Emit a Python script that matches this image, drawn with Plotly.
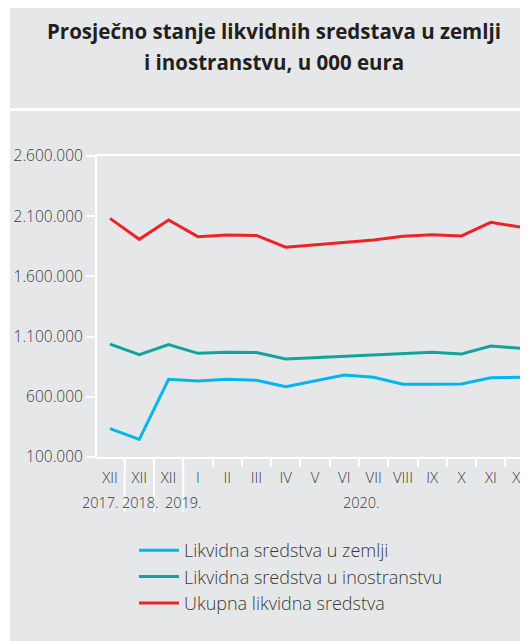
import plotly.graph_objects as go

months = ["XII", "XII", "XII", "I", "II", "III", "IV", "V", "VI", "VII", "VIII", "IX", "X", "XI", "XII"]
years = ["2017.", "2018.", "2019.", "2020."]

zemlji = [335000, 247000, 745000, 731000, 745000, 737000, 684000, 731000, 781000, 762000, 704000, 704000, 706000, 759000, 762000]
inostranstvu = [1038000, 950000, 1033000, 961000, 969000, 967000, 914000, 925000, 939000, 945000, 961000, 969000, 956000, 1022000, 1003000]
ukupna = [2082000, 1908000, 2068000, 1930000, 1944000, 1940000, 1842000, 1861000, 1886000, 1902000, 1933000, 1946000, 1936000, 2049000, 2010000]

names = ["Likvidna sredstva u zemlji", "Likvidna sredstva u inostranstvu", "Ukupna likvidna sredstva"]
colors = ["#00b6ef", "#11a49c", "#ee2229"]

FONT = "Open Sans"
TXT = "#3a3a3a"
LIGHT = 300
OFF = 8  # page body margin
PAGE_W, PAGE_H = 528, 641
W, H = PAGE_W - OFF, PAGE_H - OFF
# plot area in page pixels
PL, PR, PT, PB = 97, 528, 156, 457
L, R, T, B = PL - OFF, W - (PR - OFF), PT - OFF, H - (PB - OFF)
pw, ph = W - L - R, H - T - B


def px(x):
    return (x - PL) / pw


def py(y):
    return (PB - y) / ph


x = list(range(len(months)))

fig = go.Figure()
for vals, name, col in zip([zemlji, inostranstvu, ukupna], names, colors):
    fig.add_trace(go.Scatter(x=x, y=vals, mode="lines", name=name,
                             line=dict(color=col, width=3)))

shapes = [
    dict(type="rect", xref="paper", yref="paper", x0=px(10), x1=px(PAGE_W + 5), y0=py(108), y1=py(0),
         fillcolor="#e6e7e8", line=dict(width=0), layer="below"),
    dict(type="rect", xref="paper", yref="paper", x0=px(10), x1=px(PAGE_W + 5), y0=py(PAGE_H + 5), y1=py(111),
         fillcolor="#e6e7e8", line=dict(width=0), layer="below"),
]
for b in [0.5, 1.5, 2.5]:
    shapes.append(dict(type="line", xref="x", yref="paper", x0=b, x1=b, y0=0, y1=py(512),
                       line=dict(color="white", width=2), layer="above"))

annotations = [
    dict(text="<b>Prosječno stanje likvidnih sredstava u zemlji</b>",
         xref="paper", yref="paper", x=px(273.5), y=py(31), xanchor="center", yanchor="middle",
         showarrow=False, font=dict(family=FONT, size=20.5, color="#231f20")),
    dict(text="<b>i inostranstvu, u 000 eura</b>",
         xref="paper", yref="paper", x=px(273.5), y=py(62), xanchor="center", yanchor="middle",
         showarrow=False, font=dict(family=FONT, size=20.5, color="#231f20")),
]
year_x = [100.5, 140.5, 183, 361]
for yr, xx in zip(years, year_x):
    annotations.append(dict(text=yr, xref="paper", yref="paper", x=px(xx), y=py(503),
                            xanchor="center", yanchor="middle", showarrow=False,
                            font=dict(family=FONT, size=14.5, color=TXT, weight=LIGHT)))

fig.update_layout(
    width=W, height=H,
    margin=dict(l=L, r=R, t=T, b=B, pad=0),
    paper_bgcolor="white", plot_bgcolor="rgba(0,0,0,0)",
    separators=",.",
    font=dict(family=FONT, size=16, color=TXT),
    showlegend=True,
    legend=dict(x=px(134), y=py(532), xanchor="left", yanchor="top", bgcolor="rgba(0,0,0,0)",
                font=dict(family=FONT, size=18, color=TXT, weight=LIGHT), tracegroupgap=0, itemwidth=40),
    shapes=shapes,
    annotations=annotations,
    xaxis=dict(range=[-0.444, 14.27], tickmode="array", tickvals=x, ticktext=months,
               showgrid=False, zeroline=False, showline=True, linecolor="white", linewidth=2,
               mirror=True, ticks="outside", ticklen=6, tickcolor="rgba(0,0,0,0)",
               ticklabeloverflow="allow",
               tickfont=dict(family=FONT, size=15, color=TXT, weight=LIGHT),
               minor=dict(tickmode="array", tickvals=[i + 0.5 for i in x[:-1]], ticks="outside",
                          ticklen=8, tickcolor="white", tickwidth=2, showgrid=False)),
    yaxis=dict(range=[100000, 2600000], tickmode="linear", tick0=100000, dtick=500000,
               tickformat=",d", showgrid=False, zeroline=False, showline=True, linecolor="white",
               linewidth=2, ticks="outside", ticklen=9, tickcolor="white", tickwidth=2,
               tickfont=dict(family=FONT, size=15.5, color=TXT, weight=LIGHT)),
)

fig.write_html("out.html")
